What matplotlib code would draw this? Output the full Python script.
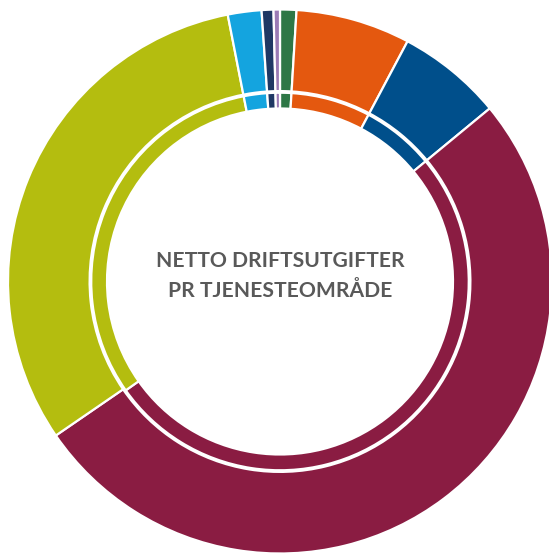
import matplotlib.pyplot as plt

# Netto driftsutgifter per tjenesteområde (andel i %), lest av bildet
categories = ['Område 1', 'Område 2', 'Område 3', 'Område 4',
              'Område 5', 'Område 6', 'Område 7', 'Område 8']
outer_values = [0.97, 6.8, 6.25, 51.4, 31.5, 2.0, 0.7, 0.38]
inner_values = [0.97, 6.8, 6.25, 51.2, 31.7, 2.0, 0.7, 0.38]
colors = ['#2E7746', '#E4580F', '#004F8B', '#8A1C42',
          '#B4BD0F', '#14A4DF', '#1F3864', '#9B7BB5']
center_text = 'NETTO DRIFTSUTGIFTER\nPR TJENESTEOMRÅDE'

W, H = 549, 554
cx, cy, R = 280, 272.5, 272.0   # senter i piksler (fra venstre / bunn)

fig = plt.figure(figsize=(W / 100, H / 100), dpi=100)
ax = fig.add_axes([0, 0, 1, 1])

ax.pie(outer_values, colors=colors, radius=1.0, startangle=90,
       counterclock=False,
       wedgeprops=dict(width=0.30, edgecolor='white', linewidth=1.6))
ax.pie(inner_values, colors=colors, radius=0.694, startangle=90,
       counterclock=False,
       wedgeprops=dict(width=0.058, edgecolor='white', linewidth=1.6))

ax.text(0, 0.02, center_text, ha='center', va='center',
        fontsize=15.2, fontweight='bold', color='#595959',
        family=['Lato', 'DejaVu Sans'], linespacing=1.6)

ax.set_xlim(-cx / R, (W - cx) / R)
ax.set_ylim(-cy / R, (H - cy) / R)
ax.set_aspect('equal')
ax.axis('off')

fig.savefig('out.png', dpi=100, facecolor='white')
